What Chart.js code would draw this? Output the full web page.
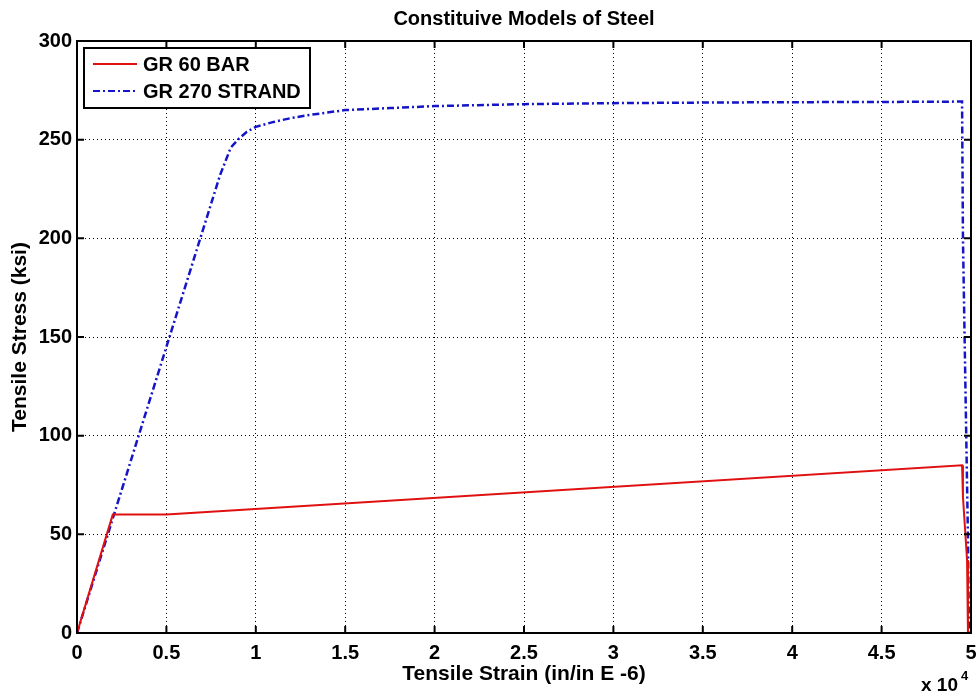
<!DOCTYPE html>
<html>
<head>
<meta charset="utf-8">
<script src="https://cdn.jsdelivr.net/npm/chart.js@4"></script>
<style>
  html, body { margin: 0; padding: 0; background: #fff; }
  #wrap { width: 976px; height: 693px; }
</style>
</head>
<body>
<div id="wrap"><canvas id="myChart" width="976" height="693"></canvas></div>
<script>
// strain in in/in E-6, stress in ksi
var barStrain = [0, 2000, 5000, 49500, 49550, 49780, 49830];
var barStress = [0, 60, 60, 85, 69, 37, 0];

var strandStrain = [0, 2000, 5000, 8000, 8600, 9000, 9500, 10000, 11000, 12000, 13000, 15000, 17500, 20000, 25000, 30000, 35000, 40000, 45000, 49500, 49550, 49830, 49880];
var strandStress = [0, 58, 145, 232, 246, 250, 254, 256.5, 259, 261, 262.5, 265, 266, 267, 268, 268.5, 268.8, 269, 269.1, 269.3, 200, 48, 0];

var seriesNames = ['GR 60 BAR', 'GR 270 STRAND'];
var xTicks = [0, 0.5, 1, 1.5, 2, 2.5, 3, 3.5, 4, 4.5, 5];
var yTicks = [0, 50, 100, 150, 200, 250, 300];

function toPoints(xs, ys) {
    return xs.map(function (x, i) { return { x: x, y: ys[i] }; });
}

var boldFont = 'Liberation Sans, Arial, sans-serif';

// box, inward ticks, legend and exponent label
var matlabBox = {
    id: 'matlabBox',
    afterDraw: function (chart) {
        var c = chart.ctx, a = chart.chartArea;
        var xs = chart.scales.x, ys = chart.scales.y;
        c.save();
        c.strokeStyle = '#000';
        c.lineWidth = 2;
        c.strokeRect(a.left, a.top, a.right - a.left, a.bottom - a.top);
        c.beginPath();
        xTicks.forEach(function (t) {
            var px = xs.getPixelForValue(t * 10000);
            c.moveTo(px, a.bottom); c.lineTo(px, a.bottom - 7);
            c.moveTo(px, a.top); c.lineTo(px, a.top + 7);
        });
        yTicks.forEach(function (t) {
            var py = ys.getPixelForValue(t);
            c.moveTo(a.left, py); c.lineTo(a.left + 7, py);
            c.moveTo(a.right, py); c.lineTo(a.right - 7, py);
        });
        c.stroke();

        // legend
        var lx = a.left + 7, ly = a.top + 7, lw = 226, lh = 60;
        c.fillStyle = '#fff';
        c.fillRect(lx, ly, lw, lh);
        c.lineWidth = 2;
        c.strokeRect(lx, ly, lw, lh);
        c.font = 'bold 20px ' + boldFont;
        c.textBaseline = 'middle';
        chart.data.datasets.forEach(function (ds, i) {
            var yy = ly + 16 + i * 27;
            c.strokeStyle = ds.borderColor;
            c.lineWidth = 2;
            c.setLineDash(ds.borderDash || []);
            c.beginPath();
            c.moveTo(lx + 9, yy); c.lineTo(lx + 53, yy);
            c.stroke();
            c.setLineDash([]);
            c.fillStyle = '#000';
            c.fillText(ds.label, lx + 59, yy + 1);
        });

        // x 10^4
        c.fillStyle = '#000';
        c.textBaseline = 'alphabetic';
        c.font = 'bold 19px ' + boldFont;
        c.fillText('x 10', 921, 691);
        c.font = 'bold 13px ' + boldFont;
        c.fillText('4', 961, 680);
        c.restore();
    }
};

var ctx = document.getElementById('myChart').getContext('2d');
var myChart = new Chart(ctx, {
    type: 'line',
    data: {
        datasets: [{
            label: seriesNames[0],
            data: toPoints(barStrain, barStress),
            borderColor: '#e01010',
            borderWidth: 2,
            pointRadius: 0,
            tension: 0
        },
        {
            label: seriesNames[1],
            data: toPoints(strandStrain, strandStress),
            borderColor: '#1414c8',
            borderWidth: 2.5,
            borderDash: [7, 3, 2, 3],
            pointRadius: 0,
            tension: 0
        }]
    },
    options: {
        responsive: false,
        animation: false,
        layout: { padding: { left: 0, right: 0, top: 41, bottom: 0 } },
        plugins: {
            legend: { display: false },
            tooltip: { enabled: false },
            title: { display: false }
        },
        scales: {
            x: {
                type: 'linear',
                min: 0,
                max: 50000,
                afterFit: function (s) {
                    s.height = 60;
                    s.paddingRight = 5;
                    s.paddingLeft = 0;
                },
                afterBuildTicks: function (s) {
                    s.ticks = xTicks.map(function (t) { return { value: t * 10000 }; });
                },
                ticks: {
                    color: '#000',
                    padding: 8,
                    maxRotation: 0,
                    font: { family: boldFont, size: 20, weight: 'bold' },
                    callback: function (v) { return v / 10000; }
                },
                grid: {
                    color: '#000',
                    lineWidth: 1,
                    drawTicks: false
                },
                border: { display: false, dash: [1, 3] },
                title: {
                    display: true,
                    text: 'Tensile Strain (in/in E -6)',
                    color: '#000',
                    padding: { top: 0, bottom: 6 },
                    font: { family: boldFont, size: 21, weight: 'bold' }
                }
            },
            y: {
                min: 0,
                max: 300,
                afterFit: function (s) { s.width = 77; },
                afterBuildTicks: function (s) {
                    s.ticks = yTicks.map(function (t) { return { value: t }; });
                },
                ticks: {
                    color: '#000',
                    padding: 5,
                    font: { family: boldFont, size: 20, weight: 'bold' }
                },
                grid: {
                    color: '#000',
                    lineWidth: 1,
                    drawTicks: false
                },
                border: { display: false, dash: [1, 3] },
                title: {
                    display: true,
                    text: 'Tensile Stress (ksi)',
                    color: '#000',
                    padding: { top: 8, bottom: 0 },
                    font: { family: boldFont, size: 21, weight: 'bold' }
                }
            }
        }
    },
    plugins: [matlabBox, {
        id: 'topTitle',
        afterDraw: function (chart) {
            var c = chart.ctx, a = chart.chartArea;
            c.save();
            c.fillStyle = '#000';
            c.font = 'bold 20px ' + boldFont;
            c.textAlign = 'center';
            c.textBaseline = 'middle';
            c.fillText('Constituive Models of Steel', (a.left + a.right) / 2, 19);
            c.restore();
        }
    }]
});
</script>
</body>
</html>
